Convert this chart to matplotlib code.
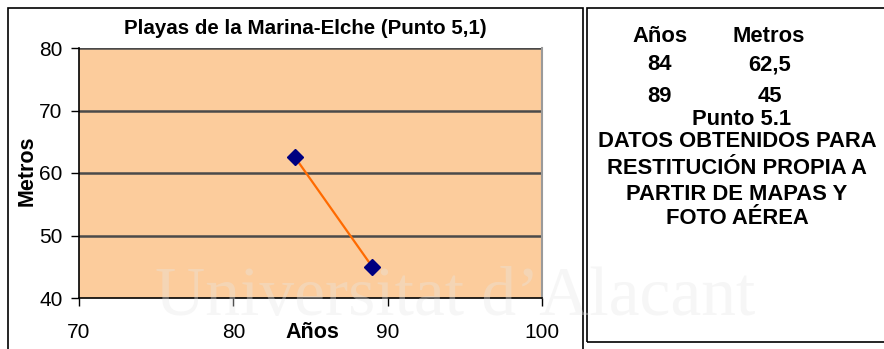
import matplotlib.pyplot as plt
from matplotlib.patches import Rectangle

plt.rcParams['font.family'] = ['Liberation Sans', 'DejaVu Sans']

# Datos del punto 5.1
anos = [84, 89]
metros = [62.5, 45]
x_ticks = [70, 80, 90, 100]
y_ticks = [40, 50, 60, 70, 80]

W, H = 884, 349
fig = plt.figure(figsize=(W / 100, H / 100), dpi=100)


def fy(px):
    return 1 - px / H


# marcos de los dos cuadros
fig.add_artist(Rectangle((8 / W, -0.1), (583 - 8) / W, 1.1 - 8 / H,
                         transform=fig.transFigure, fill=False,
                         edgecolor='black', lw=1.2))
fig.add_artist(Rectangle((587 / W, fy(342)), 0.5, (342 - 8) / H,
                         transform=fig.transFigure, fill=False,
                         edgecolor='black', lw=1.2))

ax = fig.add_axes([79 / W, fy(298), (542 - 79) / W, (298 - 48) / H])
ax.set_facecolor('#FCCC9C')
ax.plot(anos, metros, color='#FF6A00', lw=1.6, zorder=3)
ax.plot(anos, metros, 'D', color='#000080', ms=8, zorder=4)

ax.set_xlim(70, 100)
ax.set_ylim(40, 80)
ax.set_xticks(x_ticks)
ax.set_yticks(y_ticks)
ax.tick_params(labelsize=15, length=5.8, width=1)
ax.tick_params(axis='y', pad=6)
ax.tick_params(axis='x', pad=12)
for yv in y_ticks[1:]:
    ax.axhline(yv, color='#4a4a4a', lw=1.8, zorder=1)
ax.spines['top'].set_visible(False)
ax.spines['right'].set_color('#9a9a9a')
ax.spines['right'].set_linewidth(1.5)
ax.spines['left'].set_linewidth(1.2)
ax.spines['bottom'].set_linewidth(1.2)

fig.text(305 / W, fy(34), 'Playas de la Marina-Elche (Punto 5,1)',
         fontsize=14.8, fontweight='bold', ha='center', va='baseline')
fig.text(27 / W, fy(171), 'Metros', rotation=90, fontsize=15.5,
         fontweight='bold', ha='center', va='center')
fig.text(312 / W, fy(338.5), 'Años', fontsize=15.5, fontweight='bold',
         ha='center', va='baseline')

# cuadro de texto de la derecha
kw = dict(fontsize=15.8, fontweight='bold', ha='center', va='baseline')
fig.text(660 / W, fy(42.5), 'Años', **kw)
fig.text(769 / W, fy(42.5), 'Metros', **kw)
for a, m, base in zip(anos, metros, [70.5, 101.5]):
    fig.text(660 / W, fy(base), str(a), **kw)
    fig.text(770 / W, fy(base), f'{m:g}'.replace('.', ','), **kw)
fig.text(742 / W, fy(124.5), 'Punto 5.1', **kw)
notas = ['DATOS OBTENIDOS PARA', 'RESTITUCIÓN PROPIA A',
         'PARTIR DE MAPAS Y', 'FOTO AÉREA']
for t, base in zip(notas, [147, 174, 200, 223.5]):
    fig.text(737 / W, fy(base), t, **kw)

# marca de agua
fig.text(155 / W, fy(315), 'Universitat d\u2019Alacant', fontsize=50,
         family='Liberation Serif', color='#e6e6e6', alpha=0.35,
         ha='left', va='baseline', zorder=10)

fig.savefig('out.png', dpi=100)
